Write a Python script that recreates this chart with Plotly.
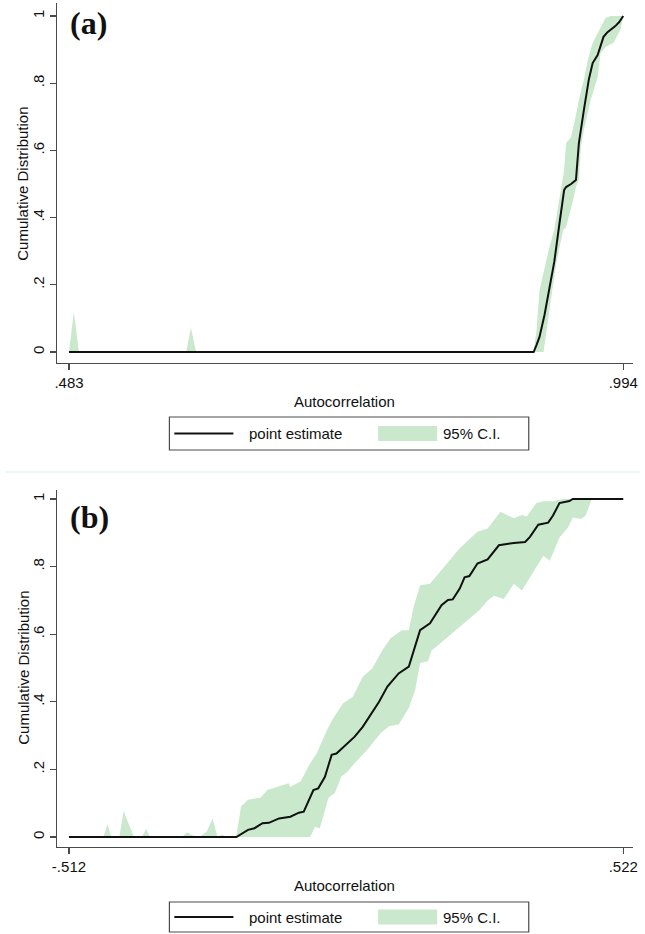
import plotly.graph_objects as go

W, H = 645, 934

# ---------------- Panel (a) data ----------------
a_line_x = [.483, .9114, .9141, .9168, .9214, .9259, .9304, .935, .9395, .9413, .9459, .9504,
            .9531, .9577, .9622, .9658, .9704, .9758, .9795, .9867, .9903, .994]
a_line_y = [0, 0, .021, .045, .110, .185, .268, .378, .482, .491, .500, .512,
            .622, .720, .810, .860, .884, .938, .952, .970, .982, 1.0]
a_hi_x = [.483, .4875, .4921, .591, .5955, .6001, .9114, .9141, .9168, .9214, .9259, .9304, .935,
          .9395, .9413, .9459, .9504, .9531, .9577, .9613, .9658, .9704, .974, .9776, .9822, .994]
a_hi_y = [0, .12, 0, 0, .072, 0, 0, .066, .184, .250, .312, .363, .452,
          .542, .622, .640, .705, .750, .810, .869, .920, .949, .976, .994, 1.0, 1.0]
a_lo_x = [.483, .9205, .925, .9286, .9323, .9386, .9413, .9477, .9504, .9531, .955, .9577,
          .964, .9704, .9731, .9776, .9849, .9913, .994]
a_lo_y = [0, 0, .095, .185, .265, .363, .372, .452, .491, .512, .610, .661,
          .750, .818, .890, .908, .920, .958, 1.0]
a_xticks = [.483, .994]
a_xticktext = [".483", ".994"]

# ---------------- Panel (b) data ----------------
b_line_x = [-.512, -.1998, -.178, -.166, -.151, -.139, -.120, -.099, -.083, -.074, -.056, -.047,
            -.0345, -.022, -.013, .005, .021, .036, .051, .0665, .082, .103, .122, .131, .143,
            .1615, .183, .195, .204, .217, .226, .235, .250, .269, .290, .318, .339, .348, .3635,
            .382, .391, .403, .4215, .428, .522]
b_line_y = [0, 0, .021, .026, .041, .042, .055, .060, .072, .075, .139, .144,
            .178, .243, .247, .272, .297, .326, .361, .400, .445, .484, .504, .548, .612,
            .632, .686, .701, .703, .735, .768, .772, .809, .821, .863, .870, .873, .888, .924,
            .930, .951, .988, .994, 1.0, 1.0]
b_hi_x = [-.512, -.448, -.440, -.433, -.418, -.410, -.391, -.376, -.368, -.361, -.328, -.319,
          -.310, -.301, -.292, -.282, -.268, -.255, -.244, -.235, -.227, -.218, -.200, -.191,
          -.178, -.154, -.142, -.117, -.102, -.099, -.080, -.062, -.050, -.031, -.019, -.001,
          .0175, .036, .054, .073, .088, .109, .122, .131, .143, .1615, .183, .217, .250, .269,
          .293, .305, .318, .333, .342, .360, .373, .391, .409, .522]
b_hi_y = [0, 0, .038, 0, 0, .077, 0, 0, .024, 0, 0, .003,
          0, 0, .014, .005, 0, .016, .055, 0, .007, 0, 0, .09,
          .11, .117, .139, .151, .159, .149, .164, .218, .247, .316, .351, .395,
          .415, .474, .499, .553, .588, .612, .612, .681, .745, .749, .790, .854, .903, .913,
          .962, .953, .943, .953, .948, .988, .993, .993, 1.0, 1.0]
b_lo_x = [-.512, -.062, -.053, -.044, -.028, -.016, -.004, .008, .021, .030, .045, .057, .070,
          .085, .103, .122, .134, .143, .158, .164, .183, .210, .232, .253, .269, .281, .299,
          .318, .333, .354, .373, .385, .403, .419, .428, .443, .452, .463, .522]
b_lo_y = [0, 0, .030, .026, .115, .130, .179, .194, .219, .234, .259, .283, .308,
          .328, .333, .382, .436, .515, .520, .551, .576, .611, .641, .670, .700, .714, .704,
          .749, .729, .783, .832, .817, .886, .916, .945, .941, .951, 1.0, 1.0]
b_xticks = [-.512, .522]
b_xticktext = ["-.512", ".522"]

y_ticks = [0, .2, .4, .6, .8, 1]
y_ticktext = ["0", ".2", ".4", ".6", ".8", "1"]

FILL = "#c9e8cc"
LINE = "#111111"
AXC = "#4a4a4a"
FONT = "Liberation Sans, Arial, sans-serif"

fig = go.Figure()

# Panel (a)
fig.add_trace(go.Scatter(x=a_hi_x + a_lo_x[::-1], y=a_hi_y + a_lo_y[::-1], fill="toself",
                         fillcolor=FILL, line=dict(width=0), mode="lines",
                         name="95% C.I.", showlegend=False, xaxis="x", yaxis="y",
                         hoverinfo="skip"))
fig.add_trace(go.Scatter(x=a_line_x, y=a_line_y, mode="lines", line=dict(color=LINE, width=2),
                         name="point estimate", showlegend=False, xaxis="x", yaxis="y"))
# Panel (b)
fig.add_trace(go.Scatter(x=b_hi_x + b_lo_x[::-1], y=b_hi_y + b_lo_y[::-1], fill="toself",
                         fillcolor=FILL, line=dict(width=0), mode="lines",
                         name="95% C.I.", showlegend=False, xaxis="x2", yaxis="y2",
                         hoverinfo="skip"))
fig.add_trace(go.Scatter(x=b_line_x, y=b_line_y, mode="lines", line=dict(color=LINE, width=2),
                         name="point estimate", showlegend=False, xaxis="x2", yaxis="y2"))


def px(x):
    return x / W


def py(y):
    return 1 - y / H


common_x = dict(showline=True, linecolor=AXC, linewidth=1.2, ticks="outside", ticklen=6,
                tickcolor=AXC, tickwidth=1.2, showgrid=False, zeroline=False,
                ticklabeloverflow="allow",
                tickfont=dict(family=FONT, size=15, color="#111"))
common_y = dict(showline=True, linecolor=AXC, linewidth=1.2, ticks="outside", ticklen=6,
                tickcolor=AXC, tickwidth=1.2, showgrid=False, zeroline=False,
                tickvals=y_ticks, ticktext=y_ticktext, tickangle=-90,
                tickfont=dict(family=FONT, size=15, color="#111"))

fig.update_layout(
    width=W, height=H, autosize=False,
    margin=dict(l=0, r=0, t=0, b=0),
    paper_bgcolor="white", plot_bgcolor="white",
    xaxis=dict(domain=[px(53), px(638)], range=[.4721, 1.0031], anchor="y",
               tickvals=a_xticks, ticktext=a_xticktext, **common_x),
    yaxis=dict(domain=[py(363), py(3)], range=[-.0327, 1.0387], anchor="x", **common_y),
    xaxis2=dict(domain=[px(53), px(638)], range=[-.534, .5404], anchor="y2",
                tickvals=b_xticks, ticktext=b_xticktext, **common_x),
    yaxis2=dict(domain=[py(847), py(490)], range=[-.0296, 1.0266], anchor="x2", **common_y),
)

shapes = []
annotations = []


def add_panel_text(label, label_y, xtitle_y, ytitle_y):
    annotations.append(dict(x=px(64), y=py(label_y), xref="paper", yref="paper",
                            text="<b>" + label + "</b>", showarrow=False, xanchor="left",
                            yanchor="middle",
                            font=dict(family="Liberation Serif, Times New Roman, serif",
                                      size=32, color="#111")))
    annotations.append(dict(x=px(345), y=py(xtitle_y), xref="paper", yref="paper",
                            text="Autocorrelation", showarrow=False, xanchor="center",
                            yanchor="middle", font=dict(family=FONT, size=15, color="#111")))
    annotations.append(dict(x=px(18), y=py(ytitle_y), xref="paper", yref="paper",
                            text="Cumulative Distribution", showarrow=False, textangle=-90,
                            xanchor="center", yanchor="middle",
                            font=dict(family=FONT, size=15, color="#111")))


def add_legend(top, bottom):
    mid = (top + bottom) / 2
    shapes.append(dict(type="rect", xref="paper", yref="paper", x0=px(167), x1=px(532),
                       y0=py(bottom), y1=py(top), line=dict(color=AXC, width=1.2),
                       fillcolor="white", layer="below"))
    shapes.append(dict(type="line", xref="paper", yref="paper", x0=px(172), x1=px(232),
                       y0=py(mid), y1=py(mid), line=dict(color=LINE, width=2)))
    shapes.append(dict(type="rect", xref="paper", yref="paper", x0=px(379), x1=px(439),
                       y0=py(mid + 7.5), y1=py(mid - 7.5), line=dict(width=0),
                       fillcolor=FILL))
    annotations.append(dict(x=px(246), y=py(mid), xref="paper", yref="paper",
                            text="point estimate", showarrow=False, xanchor="left",
                            yanchor="middle", font=dict(family=FONT, size=15, color="#111")))
    annotations.append(dict(x=px(443), y=py(mid), xref="paper", yref="paper",
                            text="95% C.I.", showarrow=False, xanchor="left",
                            yanchor="middle", font=dict(family=FONT, size=15, color="#111")))


add_panel_text("(a)", 23, 401, 184)
add_panel_text("(b)", 517, 885, 668)
add_legend(417, 450)
add_legend(902, 932)

# faint separator between panels
shapes.append(dict(type="line", xref="paper", yref="paper", x0=0, x1=1, y0=py(472), y1=py(472),
                   line=dict(color="#eef5f5", width=2)))

fig.update_layout(shapes=shapes, annotations=annotations)

fig.write_html("out.html", config={"displayModeBar": False, "staticPlot": True},
               post_script="document.body.style.margin='0px';"
                           "document.body.style.overflow='hidden';")
